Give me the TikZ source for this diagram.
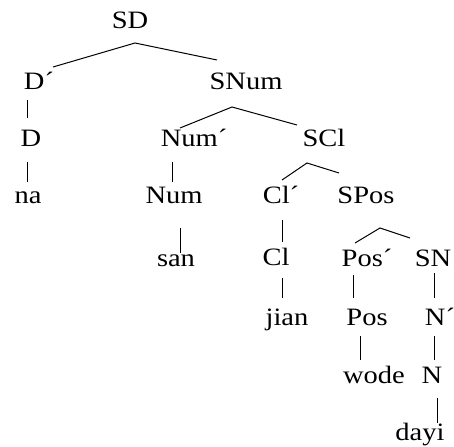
\documentclass[tikz,border=0pt]{standalone}
\usepackage{fontspec}
\setmainfont{Liberation Serif}[FakeStretch=1.14]
\usepackage{tikz}

\begin{document}
\begin{tikzpicture}[x=1pt,y=-1pt,line width=1pt,
			cat/.style={anchor=base,inner sep=0pt,text height=17pt,text depth=0pt,
				font=\fontsize{25pt}{30pt}\selectfont}]

			\useasboundingbox (0,0) rectangle (454,446);

			% row 0 and 1
			\node[cat] (sd) at (130,29) {SD};
			\node[cat] (d1) at (39,90) {D´};
			\node[cat] (snum) at (246,90) {SNum};
			% row 2
			\node[cat] (d) at (31,147) {D};
			\node[cat] (num1) at (194,147) {Num´};
			\node[cat] (scl) at (324,147) {SCl};
			% row 3
			\node[cat] (na) at (28,204) {na};
			\node[cat] (num) at (174,204) {Num};
			\node[cat] (cl1) at (281,204) {Cl´};
			\node[cat] (spos) at (366,204) {SPos};
			% row 4
			\node[cat] (san) at (176,266) {san};
			\node[cat] (cl) at (276,265) {Cl};
			\node[cat] (pos1) at (367,266) {Pos´};
			\node[cat] (sn) at (433,266) {SN};
			% row 5
			\node[cat] (jian) at (287,325) {jian};
			\node[cat] (pos) at (367,325) {Pos};
			\node[cat] (n1) at (440,325) {N´};
			% row 6 and 7
			\node[cat] (wode) at (374,383) {wode};
			\node[cat] (n) at (432,383) {N};
			\node[cat] (dayi) at (420,440) {dayi};

			% branches
			\draw ([xshift=14pt,yshift=23pt]d1.base) -- ([xshift=5pt,yshift=-14pt]sd.base)
				-- ([xshift=-29pt,yshift=30pt]snum.base);
			\draw ([xshift=-14pt,yshift=19pt]num1.base) -- ([xshift=-14pt,yshift=-17pt]snum.base)
				-- ([xshift=-27pt,yshift=22pt]scl.base);
			\draw ([xshift=1pt,yshift=24pt]cl1.base) -- ([xshift=-17pt,yshift=-16pt]scl.base)
				-- ([xshift=-27pt,yshift=31pt]spos.base);
			\draw ([xshift=-12pt,yshift=23pt]pos1.base) -- ([xshift=14pt,yshift=-24pt]spos.base)
				-- ([xshift=-23pt,yshift=28pt]sn.base);

			% stems
			\draw ([xshift=-4pt,yshift=47pt]d.base) -- ([xshift=-4pt,yshift=29pt]d.base);
			\draw ([xshift=-1pt,yshift=42pt]na.base) -- ([xshift=-1pt,yshift=22pt]na.base);
			\draw ([xshift=-2pt,yshift=42pt]num.base) -- ([xshift=-2pt,yshift=22pt]num.base);
			\draw ([xshift=4pt,yshift=38pt]san.base) -- ([xshift=4pt,yshift=13pt]san.base);
			\draw ([xshift=6pt,yshift=45pt]cl.base) -- ([xshift=6pt,yshift=23pt]cl.base);
			\draw ([xshift=-5pt,yshift=47pt]jian.base) -- ([xshift=-5pt,yshift=27pt]jian.base);
			\draw ([xshift=-14pt,yshift=50pt]pos.base) -- ([xshift=-14pt,yshift=27pt]pos.base);
			\draw ([xshift=-14pt,yshift=47pt]wode.base) -- ([xshift=-14pt,yshift=23pt]wode.base);
			\draw ([xshift=-6pt,yshift=52pt]n1.base) -- ([xshift=-6pt,yshift=27pt]n1.base);
			\draw ([xshift=2pt,yshift=47pt]n.base) -- ([xshift=2pt,yshift=23pt]n.base);
			\draw ([xshift=17pt,yshift=42pt]dayi.base) -- ([xshift=17pt,yshift=17pt]dayi.base);

		\end{tikzpicture}
\end{document}
